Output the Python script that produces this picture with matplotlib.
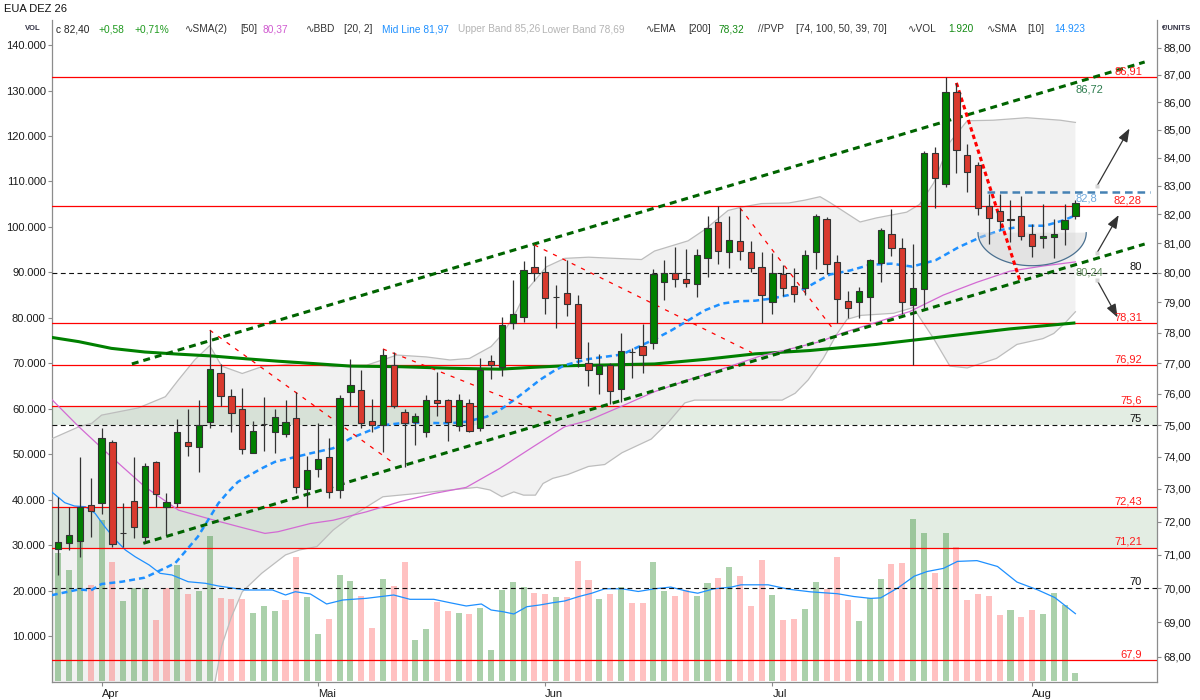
import numpy as np
import matplotlib
matplotlib.use('Agg')
import matplotlib.pyplot as plt
from matplotlib.ticker import FixedLocator, NullLocator, FuncFormatter

plt.rcParams['font.family'] = ['Liberation Sans', 'DejaVu Sans']
plt.rcParams['lines.scale_dashes'] = False

# ---------------- data ----------------
opens = [71.17, 71.35, 71.41, 72.50, 72.57, 74.47, 71.64, 72.63, 71.53, 73.84,
         72.44, 72.57, 74.47, 74.31, 75.10, 76.67, 75.93, 75.51, 74.12, 75.03,
         74.78, 74.72, 75.23, 73.00, 73.62, 73.99, 72.97, 76.06, 76.12, 75.13,
         75.00, 76.93, 75.42, 75.10, 74.78, 75.80, 75.80, 74.97, 75.71, 74.91,
         77.06, 76.87, 78.32, 78.51, 80.19, 80.02, 79.17, 79.32, 78.95, 77.00,
         76.64, 76.93, 76.15, 77.37, 77.56, 77.64, 79.69, 79.98, 79.79, 79.62,
         80.51, 81.75, 80.70, 81.09, 80.70, 80.19, 79.01, 79.95, 79.56, 79.48,
         80.70, 81.86, 80.38, 79.06, 79.02, 79.18, 80.34, 81.31, 80.86, 78.92,
         79.45, 84.17, 83.07, 86.38, 84.09, 83.72, 82.28, 82.13, 81.80, 81.96,
         81.34, 81.18, 81.23, 81.51, 81.96]
highs = [72.75, 72.44, 73.99, 73.34, 74.91, 74.53, 72.57, 73.99, 73.81, 73.86,
         72.87, 75.20, 75.51, 75.80, 78.08, 76.96, 76.16, 76.19, 75.13, 75.90,
         75.51, 75.80, 76.06, 74.02, 75.07, 74.59, 75.96, 77.13, 76.77, 75.83,
         77.46, 77.36, 75.51, 75.39, 75.96, 76.71, 75.82, 75.99, 75.83, 77.16,
         77.26, 78.51, 79.75, 80.40, 80.95, 80.57, 79.59, 80.43, 79.25, 77.69,
         77.29, 77.00, 77.99, 77.49, 78.29, 80.14, 80.45, 80.88, 80.82, 80.82,
         81.93, 82.28, 81.94, 82.23, 81.09, 80.72, 80.68, 80.28, 80.17, 80.77,
         82.02, 81.90, 80.59, 79.39, 79.51, 80.46, 81.54, 82.19, 81.18, 80.98,
         84.22, 84.37, 86.91, 86.70, 84.48, 83.86, 82.72, 82.72, 82.49, 82.66,
         81.66, 82.37, 81.84, 82.35, 82.50]
lows = [70.39, 71.14, 70.93, 71.53, 72.23, 71.23, 71.23, 71.50, 71.35, 72.44,
        71.59, 72.44, 74.02, 73.52, 74.91, 75.61, 74.78, 74.09, 74.12, 74.18,
        74.12, 74.62, 72.87, 72.44, 73.37, 72.72, 72.72, 75.61, 74.91, 74.78,
        74.15, 75.54, 73.68, 74.37, 74.62, 75.29, 74.50, 74.81, 74.78, 74.81,
        76.48, 76.58, 78.12, 78.35, 79.72, 78.61, 78.15, 78.54, 76.87, 76.25,
        75.99, 75.69, 75.74, 76.51, 76.67, 77.47, 79.08, 79.51, 79.51, 79.20,
        79.87, 80.30, 80.16, 80.43, 80.01, 78.32, 78.63, 79.22, 79.01, 79.24,
        80.14, 79.97, 78.31, 78.49, 78.48, 78.37, 79.68, 80.57, 78.61, 76.92,
        78.80, 82.23, 82.95, 83.45, 82.79, 81.97, 80.99, 81.47, 81.06, 81.12,
        80.54, 80.83, 80.51, 80.96, 81.86]
closes = [71.38, 71.59, 72.44, 72.32, 74.59, 71.32, 71.66, 71.83, 73.71, 72.84,
          72.60, 74.78, 74.34, 75.00, 76.80, 75.93, 75.39, 74.24, 74.81, 75.05,
          75.26, 75.10, 73.06, 73.58, 73.93, 72.90, 75.87, 76.29, 75.07, 75.00,
          77.26, 75.61, 75.07, 75.29, 75.80, 75.71, 75.10, 75.80, 74.81, 76.77,
          76.93, 78.25, 78.61, 80.09, 79.99, 79.15, 79.20, 78.95, 77.16, 76.77,
          76.93, 76.09, 77.39, 77.35, 77.26, 79.95, 80.00, 79.78, 79.66, 80.60,
          81.53, 80.74, 81.12, 80.74, 80.16, 79.25, 79.98, 79.48, 79.30, 80.60,
          81.95, 80.31, 79.13, 78.83, 79.39, 80.42, 81.46, 80.85, 79.02, 79.49,
          84.17, 83.28, 86.38, 84.28, 83.50, 82.22, 81.89, 81.78, 81.83, 81.24,
          80.91, 81.24, 81.34, 81.80, 82.40]
volumes = [28330, 24530, 31000, 21230, 35530, 26290, 17710, 20570, 20570, 13530,
           20570, 25630, 19250, 19910, 32000, 18370, 18150, 18150, 15130, 16610,
           15510, 17930, 27450, 18650, 10450, 13750, 23430, 22110, 18810, 11840,
           22550, 21010, 26290, 9130, 11550, 17550, 15510, 15070, 14850, 16230,
           6930, 20130, 21890, 20790, 19470, 19250, 18550, 18670, 26420, 22260,
           18240, 19270, 20680, 17330, 17330, 26200, 19800, 18740, 20170, 18740,
           21580, 22700, 25080, 23140, 16520, 26640, 19120, 13620, 13840, 15840,
           21800, 20410, 27280, 17840, 13400, 18280, 22640, 25740, 26160, 35660,
           32580, 23760, 32750, 29670, 17840, 19140, 18870, 14520, 15620, 14080,
           15620, 14760, 19560, 16830, 1920]

# indicator lines (bar index, value)
ema_x = [-0.6, 1.9, 4.9, 8.0, 11.1, 14.2, 17.3, 20.3, 23.3, 27.0, 31.6, 36.2, 40.8,
         43.9, 46.8, 55.1, 59.8, 64.4, 69.5, 75.6, 81.7, 87.9, 94.0]
ema_v = [77.84, 77.70, 77.48, 77.36, 77.29, 77.23, 77.14, 77.06, 76.99, 76.90, 76.88,
         76.83, 76.80, 76.86, 76.91, 76.97, 77.12, 77.30, 77.41, 77.61, 77.86, 78.12, 78.32]

sma_x = [-0.6, 1.9, 4.9, 8.0, 11.1, 14.2, 17.3, 19.1, 20.3, 23.3, 25.4, 28.5, 31.6,
         34.7, 37.7, 40.8, 43.9, 46.8, 49.0, 52.1, 55.1, 58.2, 61.3, 64.8, 67.5, 70.4,
         72.5, 75.6, 78.7, 81.8, 84.9, 87.9, 91.0, 94.0]
sma_v = [75.82, 74.95, 74.00, 73.07, 72.35, 72.06, 71.79, 71.64, 71.69, 71.94, 72.04,
         72.30, 72.61, 72.86, 73.05, 73.64, 74.32, 74.95, 75.15, 75.61, 76.07, 76.45,
         76.80, 77.22, 77.45, 77.70, 77.99, 78.34, 78.70, 79.25, 79.68, 80.05, 80.23, 80.37]

mid_x = [-0.6, 1.9, 3.0, 4.0, 5.9, 8.0, 10.8, 11.7, 12.9, 14.8, 15.7, 16.6, 18.8, 20.0,
         23.3, 25.4, 27.0, 28.5, 30.0, 31.6, 33.1, 36.2, 37.7, 39.6, 40.8, 42.1, 43.3,
         44.5, 45.7, 46.8, 49.0, 52.1, 55.1, 56.6, 58.2, 59.7, 61.3, 62.8, 64.4, 65.9,
         67.5, 69.0, 70.4, 71.3, 73.2, 75.0, 77.0, 78.9, 81.1, 83.2, 85.2, 87.2, 89.4,
         91.2, 93.0, 94.0]
mid_v = [69.79, 69.96, 69.93, 70.12, 70.19, 70.31, 70.74, 71.08, 71.54, 72.56, 72.91,
         73.22, 73.64, 73.84, 74.11, 74.27, 74.58, 74.79, 75.00, 75.06, 75.08, 75.06,
         75.11, 75.27, 75.48, 75.80, 76.12, 76.45, 76.72, 76.93, 77.13, 77.28, 77.78,
         78.06, 78.40, 78.73, 78.96, 79.04, 79.06, 79.13, 79.25, 79.47, 79.76, 79.94,
         80.08, 80.27, 80.31, 80.21, 80.43, 80.87, 81.21, 81.47, 81.61, 81.61, 81.81, 81.97]

ub_x = [-0.6, 1.9, 3.1, 4.0, 7.4, 9.9, 11.1, 12.6, 14.0, 15.1, 17.0, 18.8, 22.3, 25.4,
        28.5, 31.3, 34.0, 36.2, 38.0, 40.0, 41.1, 42.4, 43.3, 45.1, 46.8, 49.0, 53.9,
        55.1, 58.2, 59.8, 61.9, 63.2, 65.0, 67.5, 69.0, 70.4, 71.3, 74.1, 75.6, 78.4,
        79.6, 80.9, 82.4, 84.0, 86.4, 89.5, 92.6, 94.0]
ub_v = [74.57, 74.95, 75.06, 75.32, 75.55, 75.91, 76.45, 77.10, 77.57, 76.90, 76.66,
        76.88, 76.99, 76.88, 76.93, 77.26, 77.20, 77.10, 77.15, 77.54, 77.97, 78.75,
        79.42, 80.20, 80.49, 80.53, 80.45, 80.74, 81.09, 81.49, 82.14, 82.26, 82.38,
        82.40, 82.50, 82.62, 82.42, 81.74, 81.88, 82.08, 82.35, 83.10, 84.55, 85.32,
        85.34, 85.43, 85.34, 85.26]

lb_x = [-0.6, 4.0, 7.4, 11.1, 12.6, 14.0, 14.5, 15.1, 16.0, 17.0, 18.8, 21.0, 22.3,
        23.9, 25.4, 27.0, 28.5, 30.0, 33.1, 36.2, 38.7, 39.9, 41.0, 42.1, 43.0, 44.1,
        44.8, 45.7, 47.1, 49.0, 50.5, 52.1, 54.8, 56.4, 57.9, 58.8, 61.3, 64.4, 66.9,
        68.1, 69.3, 70.7, 71.9, 72.9, 74.2, 77.2, 79.0, 80.9, 82.4, 84.0, 86.7, 88.6,
        91.0, 92.0, 93.0, 94.0]
lb_v = [65.00, 64.90, 65.00, 65.00, 65.80, 66.60, 67.30, 68.30, 69.15, 69.89, 70.44,
        70.99, 71.14, 71.24, 71.74, 72.14, 72.45, 72.76, 72.86, 72.97, 73.05, 72.97,
        72.76, 72.91, 72.81, 72.81, 73.17, 73.33, 73.45, 73.70, 73.76, 74.13, 74.56,
        75.10, 75.71, 75.80, 75.80, 75.80, 75.80, 76.02, 76.45, 77.15, 77.92, 78.44,
        78.57, 78.64, 78.83, 77.80, 76.90, 76.84, 77.15, 77.61, 77.80, 77.97, 78.30, 78.69]

vsma_x = [-0.6, 0.6, 1.5, 2.5, 3.4, 4.3, 5.3, 6.2, 7.1, 8.4, 9.4, 10.5, 12.0, 13.6, 14.8,
          17.3, 19.8, 21.0, 21.9, 23.3, 24.8, 26.3, 28.5, 31.0, 32.5, 34.7, 36.2, 37.7,
          39.1, 40.0, 41.1, 42.1, 43.3, 44.5, 45.7, 46.8, 48.1, 49.3, 50.5, 52.1, 53.6,
          55.1, 56.6, 58.2, 59.1, 60.6, 62.2, 63.1, 65.6, 67.5, 69.5, 72.0, 73.5, 75.1,
          76.0, 77.6, 79.1, 80.3, 81.8, 83.1, 84.9, 86.8, 88.6, 90.5, 92.1, 94.0]
vsma_v = [41690, 39330, 38600, 38450, 37000, 34050, 31130, 28930, 27450, 25630, 23800,
          23430, 21950, 21600, 21010, 20130, 20130, 19030, 19750, 19250, 17050, 17930,
          18300, 19030, 18080, 18080, 17330, 16610, 17050, 15730, 15350, 14850, 16450,
          16830, 17330, 17710, 18680, 19420, 20390, 20390, 19800, 20390, 20770, 19800,
          19420, 20390, 20770, 21270, 21270, 20300, 19730, 19310, 18700, 18280, 18400,
          20590, 23160, 24200, 24880, 26420, 26590, 25300, 21870, 20170, 18460, 14923]

# drawn objects (bar index, price)
channel_upper = [(6.8, 76.97), (100.4, 87.47)]
channel_lower = [(7.86, 71.34), (100.4, 80.98)]
resist_lines = [[(14.0, 78.08), (31.0, 73.80)],
                [(30.0, 77.46), (45.7, 75.27)],
                [(44.0, 80.95), (64.1, 77.34)],
                [(63.0, 82.23), (71.6, 78.12)]]
resist_bold = [(83.0, 86.70), (88.9, 79.70)]
blue_level = [(85.8, 82.8), (100.9, 82.8)]
red_levels = [86.91, 82.28, 78.31, 76.92, 75.6, 72.43, 71.21, 67.9]
red_labels = ['86,91', '82,28', '78,31', '76,92', '75,6', '72,43', '71,21', '67,9']
black_levels = [80, 75, 70]
black_labels = ['80', '75', '70']
zones = [(75.0, 75.6), (71.21, 72.43)]
arrows = [((96.0, 83.0), (99.0, 85.04)),
          ((96.0, 80.68), (98.0, 81.98)),
          ((96.0, 79.75), (97.9, 78.50))]
bowl = dict(center=90.0, half_width=5.0, top=81.37, bottom=80.24)
line_labels = [('86,72', 86.72, '#2e7d4f'), ('82,8', 82.8, '#6fa8dc'), ('80,24', 80.24, '#5f8a5a')]

month_ticks = [4, 24, 45, 66, 90]
month_labels = ['Apr', 'Mai', 'Jun', 'Jul', 'Aug']
price_ticks = list(range(68, 89))
vol_ticks = list(range(10000, 140001, 10000))

# ---------------- figure ----------------
W, H = 1200, 700
fig = plt.figure(figsize=(W / 100, H / 100), dpi=100)
L, R, T, B = 52, 1157, 20, 682
ax = fig.add_axes([L / W, 1 - B / H, (R - L) / W, (B - T) / H])
axv = ax.twinx()
ax.set_yscale('log')
ax.set_xlim(-0.58, 101.54)
ax.set_ylim(67.27, 89.04)
axv.set_ylim(-110, 145510)
ax.set_autoscale_on(False)
axv.set_autoscale_on(False)

idx = np.arange(len(closes))
O = np.array(opens); C = np.array(closes)
Hh = np.array(highs); Ll = np.array(lows)
V = np.array(volumes)

# Bollinger fill
ax.fill(np.concatenate([ub_x, lb_x[::-1]]), np.concatenate([ub_v, lb_v[::-1]]),
        color='#f1f1f1', lw=0, zorder=1)

# volume bars (colour by close vs previous close)
vol_up = np.concatenate([[True], C[1:] >= C[:-1]])
vcol = [(0.18, 0.55, 0.18, 0.40) if u else (1.0, 0.33, 0.33, 0.36) for u in vol_up]
ax.bar(idx, V, width=0.56, color=vcol, lw=0, transform=axv.transData, zorder=2)

# zones
for lo, hi in zones:
    ax.axhspan(lo, hi, color='#448844', alpha=0.15, lw=0, zorder=3)

# bollinger lines & volume SMA
ax.plot(ub_x, ub_v, color='#bdbdbd', lw=0.9, zorder=4)
ax.plot(lb_x, lb_v, color='#bdbdbd', lw=0.9, zorder=4)
ax.plot(vsma_x, vsma_v, color='#1e90ff', lw=0.9, transform=axv.transData, zorder=4)

# levels
for v, lab in zip(red_levels, red_labels):
    ax.axhline(v, color='#ff0000', lw=0.9, zorder=5)
    ax.annotate(lab, (0.9864, v), xycoords=ax.get_yaxis_transform(), ha='right', va='bottom',
                fontsize=8, color='#ff1a1a', xytext=(0, 0.5), textcoords='offset points', zorder=11)
for v, lab in zip(black_levels, black_labels):
    ax.axhline(v, color='#111111', lw=0.8, ls=(0, (3.5, 2.5)), zorder=5)
    ax.annotate(lab, (0.9864, v), xycoords=ax.get_yaxis_transform(), ha='right', va='bottom',
                fontsize=8, color='#111111', xytext=(0, 0.5), textcoords='offset points', zorder=11)

# moving averages
ax.plot(ema_x, ema_v, color='#008000', lw=2.2, zorder=6, solid_capstyle='butt')
ax.plot(sma_x, sma_v, color='#d36ad3', lw=0.9, zorder=6)
ax.plot(mid_x, mid_v, color='#1e90ff', lw=1.8, ls=(0, (4.3, 2.9)), zorder=6)

# bowl
t = np.linspace(0, np.pi, 80)
bx = bowl['center'] + bowl['half_width'] * np.cos(t)
bp = np.exp(np.log(bowl['top']) - (np.log(bowl['top']) - np.log(bowl['bottom'])) * np.sin(t))
ax.fill(bx, bp, color='#d2d2d2', alpha=0.45, lw=0, zorder=6.4)
ax.plot(bx, bp, color='#4a7090', lw=0.9, zorder=6.5)

# trend lines
for ln in (channel_upper, channel_lower):
    ax.plot([ln[0][0], ln[1][0]], [ln[0][1], ln[1][1]], color='#006400', lw=2.2,
            ls=(0, (5, 3.6)), zorder=7)
for ln in resist_lines:
    ax.plot([ln[0][0], ln[1][0]], [ln[0][1], ln[1][1]], color='#ff0000', lw=0.9,
            ls=(0, (3, 4.5)), zorder=7)
ax.plot([resist_bold[0][0], resist_bold[1][0]], [resist_bold[0][1], resist_bold[1][1]],
        color='#ff0000', lw=2.2, ls=(0, (3.2, 2.4)), zorder=7)
ax.plot([blue_level[0][0], blue_level[1][0]], [blue_level[0][1], blue_level[1][1]],
        color='#4682b4', lw=1.8, ls=(0, (5.5, 3.5)), zorder=7)

# candles
up = C >= O
ax.vlines(idx, Ll, Hh, color='#333333', lw=0.9, zorder=8)
ax.bar(idx, np.abs(C - O), bottom=np.minimum(O, C), width=0.58,
       color=np.where(up, '#008000', '#d93a2e'), edgecolor='#333333', linewidth=0.8, zorder=9)

# arrows
for (s, e) in arrows:
    ax.annotate('', xy=e, xytext=s,
                arrowprops=dict(arrowstyle='-|>,head_length=0.8,head_width=0.3', color='#333333',
                                lw=0.9, shrinkA=0, shrinkB=0), zorder=10)
ax.plot([a[0][0] for a in arrows], [a[0][1] for a in arrows], 's', ms=3.5,
        color='#d6d6d6', mec='none', zorder=10)

# line value labels at the last bar
for lab, v, col in line_labels:
    ax.annotate(lab, (idx[-1], v), ha='left', va='top', fontsize=8, color=col,
                xytext=(0, -1.5), textcoords='offset points', zorder=11)

# ---------------- axes styling ----------------
ax.yaxis.tick_right()
axv.yaxis.tick_left()
ax.yaxis.set_major_locator(FixedLocator(price_ticks))
ax.yaxis.set_minor_locator(NullLocator())
ax.yaxis.set_major_formatter(FuncFormatter(lambda v, p: f"{v:.2f}".replace('.', ',')))
axv.yaxis.set_major_locator(FixedLocator(vol_ticks))
axv.yaxis.set_major_formatter(FuncFormatter(lambda v, p: f"{int(v):,}".replace(',', '.')))
ax.set_xticks(month_ticks)
ax.set_xticklabels(month_labels)
for lab in ax.get_xticklabels():
    lab.set_ha('left')

gray = '#8c8c8c'
ax.tick_params(axis='y', which='both', right=True, left=False, labelright=True, labelleft=False,
               length=3, width=0.8, color=gray, pad=1.5, labelsize=8, labelcolor='#1a1a1a')
axv.tick_params(axis='y', left=True, right=False, labelleft=True, labelright=False,
                length=3, width=0.8, color=gray, pad=1.5, labelsize=8, labelcolor='#1a1a1a')
ax.tick_params(axis='x', length=3, width=0.8, color=gray, pad=2, labelsize=8, labelcolor='#1a1a1a')

for a in (ax, axv):
    a.spines['top'].set_visible(False)
for s in ('left', 'right', 'bottom'):
    ax.spines[s].set_color(gray)
    ax.spines[s].set_linewidth(0.9)
    axv.spines[s].set_visible(False)

# ---------------- header ----------------
def ftxt(x, y, s, color='#333333', size=7.3, **kw):
    fig.text(x / W, 1 - y / H, s, ha='left', va='center', fontsize=size, color=color,
             family=['Liberation Sans', 'DejaVu Sans'], **kw)

ftxt(4, 9, 'EUA DEZ 26', '#111111', 8)
ftxt(25, 29, 'VOL', '#333344', 5.5, weight='bold')
ftxt(55.7, 29, 'c 82,40', '#222222')
ftxt(98, 29, '+0,58', '#1f9a1f')
ftxt(134.6, 29, '+0,71%', '#1f9a1f')
ftxt(184.6, 29, '\u223fSMA(2)', '#333333')
ftxt(240, 29, '[50]', '#333333')
ftxt(262.7, 29, '80,37', '#d05ad0')
ftxt(305.8, 29, '\u223fBBD', '#333333')
ftxt(343.5, 29, '[20, 2]', '#333333')
ftxt(382, 29, 'Mid Line 81,97', '#1e90ff')
ftxt(457.7, 29, 'Upper Band 85,26', '#b4b4b4')
ftxt(542, 29, 'Lower Band 78,69', '#b4b4b4')
ftxt(646, 29, '\u223fEMA', '#333333')
ftxt(688, 29, '[200]', '#333333')
ftxt(719, 29, '78,32', '#138a13')
ftxt(757.7, 29, '//PVP', '#333333')
ftxt(796, 29, '[74, 100, 50, 39, 70]', '#333333')
ftxt(907.7, 29, '\u223fVOL', '#333333')
ftxt(948, 29, '1.920', '#138a13')
ftxt(986.5, 29, '\u223fSMA', '#333333')
ftxt(1027.7, 29, '[10]', '#333333')
ftxt(1054, 29, '14.923', '#1e90ff')
ftxt(1162, 29, '\u20ac/UNITS', '#333344', 5.5, weight='bold')

fig.savefig('out.png', dpi=100)
